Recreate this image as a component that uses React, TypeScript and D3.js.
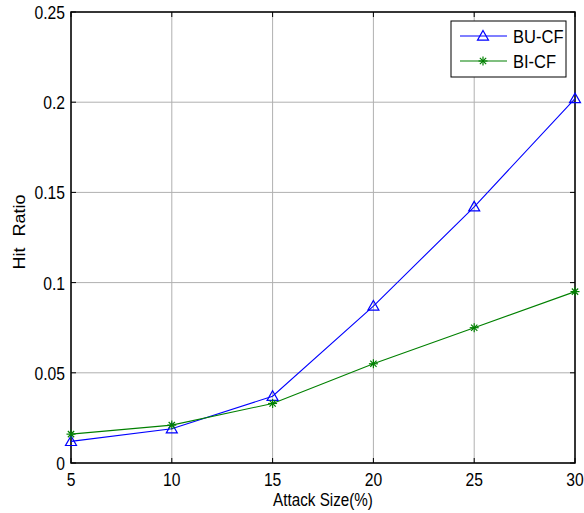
import React from "react";
import * as d3 from "d3";

const attackSizes = [5, 10, 15, 20, 25, 30];
const buCF = [0.012, 0.019, 0.037, 0.087, 0.142, 0.202];
const biCF = [0.016, 0.021, 0.033, 0.055, 0.075, 0.095];
const xTicks = [5, 10, 15, 20, 25, 30];
const yTicks = [0, 0.05, 0.1, 0.15, 0.2, 0.25];
const yTickLabels = ["0", "0.05", "0.1", "0.15", "0.2", "0.25"];

const width = 584;
const height = 513;
const margin = { top: 12, right: 9, bottom: 50, left: 71 };
const font = "'Liberation Sans', Arial, sans-serif";

// text squeezed horizontally, the reference looks like a narrowed Arial
function Label({
  x,
  y,
  size,
  anchor = "start",
  sx = 0.87,
  children,
}: {
  x: number;
  y: number;
  size: number;
  anchor?: string;
  sx?: number;
  children: React.ReactNode;
}) {
  return (
    <text transform={`translate(${x},${y}) scale(${sx},1)`} textAnchor={anchor} fontSize={size}>
      {children}
    </text>
  );
}

function Triangle({ x, y, color }: { x: number; y: number; color: string }) {
  const s = 5.5;
  return (
    <path
      d={`M${x},${y - s}L${x + s},${y + s * 0.75}L${x - s},${y + s * 0.75}Z`}
      fill="none"
      stroke={color}
      strokeWidth={1.2}
    />
  );
}

function Star({ x, y, color }: { x: number; y: number; color: string }) {
  const s = 4.5;
  const d = s * 0.7;
  return (
    <g stroke={color} strokeWidth={1.2}>
      <line x1={x - s} y1={y} x2={x + s} y2={y} />
      <line x1={x} y1={y - s} x2={x} y2={y + s} />
      <line x1={x - d} y1={y - d} x2={x + d} y2={y + d} />
      <line x1={x - d} y1={y + d} x2={x + d} y2={y - d} />
    </g>
  );
}

export default function App() {
  const x = d3
    .scaleLinear()
    .domain([5, 30])
    .range([margin.left, width - margin.right]);
  const y = d3
    .scaleLinear()
    .domain([0, 0.25])
    .range([height - margin.bottom, margin.top]);

  const line = d3
    .line<number>()
    .x((d, i) => x(attackSizes[i]))
    .y((d) => y(d));

  const blue = "#0000ff";
  const green = "#008000";
  const x0 = x(5);
  const x1 = x(30);
  const y0 = y(0);
  const y1 = y(0.25);

  return (
    <svg
      width={width}
      height={height}
      style={{ position: "absolute", left: 0, top: 0, background: "#fff" }}
      fontFamily={font}
    >
      {/* grid */}
      {xTicks.map((t) => (
        <line key={"gx" + t} x1={x(t)} x2={x(t)} y1={y0} y2={y1} stroke="#b0b0b0" strokeWidth={1} />
      ))}
      {yTicks.map((t) => (
        <line key={"gy" + t} x1={x0} x2={x1} y1={y(t)} y2={y(t)} stroke="#b0b0b0" strokeWidth={1} />
      ))}

      {/* tick marks */}
      {xTicks.map((t) => (
        <g key={"tx" + t} stroke="#000" strokeWidth={1}>
          <line x1={x(t)} x2={x(t)} y1={y0} y2={y0 - 5} />
          <line x1={x(t)} x2={x(t)} y1={y1} y2={y1 + 5} />
        </g>
      ))}
      {yTicks.map((t) => (
        <g key={"ty" + t} stroke="#000" strokeWidth={1}>
          <line x1={x0} x2={x0 + 5} y1={y(t)} y2={y(t)} />
          <line x1={x1} x2={x1 - 5} y1={y(t)} y2={y(t)} />
        </g>
      ))}

      {/* box */}
      <rect x={x0} y={y1} width={x1 - x0} height={y0 - y1} fill="none" stroke="#000" strokeWidth={1.5} />

      {/* series */}
      <path d={line(buCF) ?? ""} fill="none" stroke={blue} strokeWidth={1.1} />
      <path d={line(biCF) ?? ""} fill="none" stroke={green} strokeWidth={1.1} />
      {buCF.map((v, i) => (
        <Triangle key={"b" + i} x={x(attackSizes[i])} y={y(v)} color={blue} />
      ))}
      {biCF.map((v, i) => (
        <Star key={"g" + i} x={x(attackSizes[i])} y={y(v)} color={green} />
      ))}

      {/* tick labels */}
      {xTicks.map((t) => (
        <Label key={"lx" + t} x={x(t)} y={y0 + 23} anchor="middle" size={18}>
          {t}
        </Label>
      ))}
      {yTicks.map((t, i) => (
        <Label key={"ly" + t} x={x0 - 6} y={y(t) + 7} anchor="end" size={18}>
          {yTickLabels[i]}
        </Label>
      ))}

      {/* axis labels */}
      <Label x={(x0 + x1) / 2} y={506} anchor="middle" size={17.5}>
        Attack Size(%)
      </Label>
      <text
        transform={`translate(25,232) rotate(-90) scale(1,0.87)`}
        textAnchor="middle"
        fontSize={18}
        wordSpacing={6}
      >
        Hit Ratio
      </text>

      {/* legend */}
      <g>
        <rect x={451} y={21} width={115} height={56} fill="#fff" stroke="#000" strokeWidth={1} />
        <line x1={460} x2={507} y1={36} y2={36} stroke={blue} strokeWidth={1.1} />
        <Triangle x={483} y={36} color={blue} />
        <Label x={513} y={43} size={19}>BU-CF</Label>
        <line x1={460} x2={507} y1={61} y2={61} stroke={green} strokeWidth={1.1} />
        <Star x={483} y={61} color={green} />
        <Label x={513} y={68} size={19}>BI-CF</Label>
      </g>
    </svg>
  );
}
